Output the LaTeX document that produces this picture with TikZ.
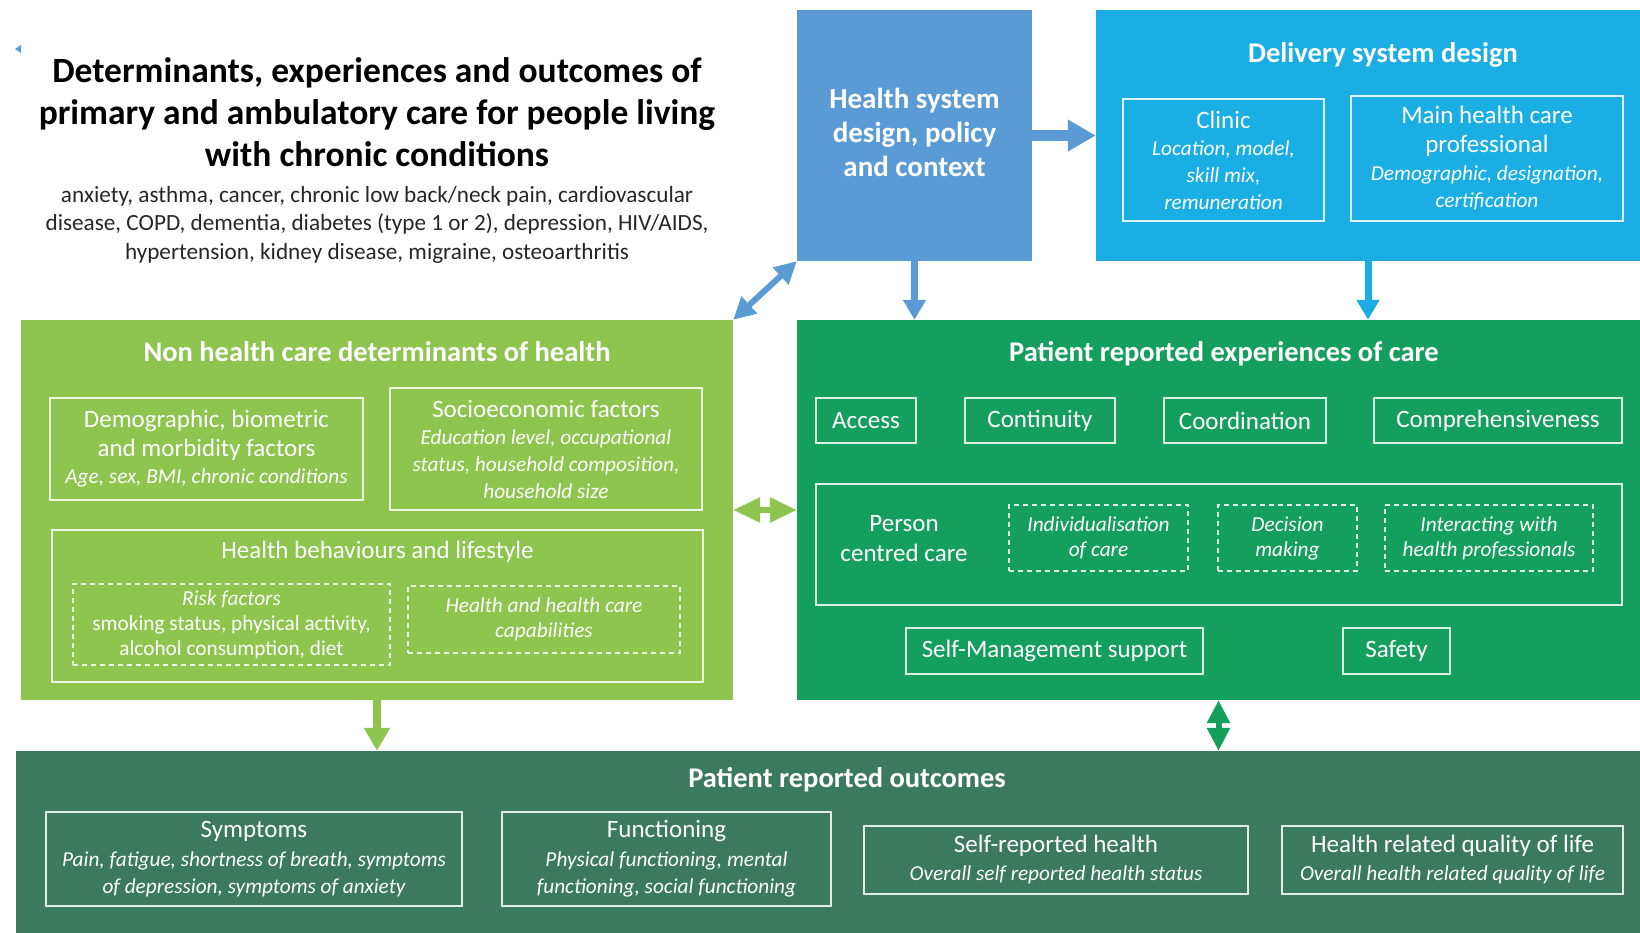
\documentclass[tikz,border=0pt]{standalone}
\usepackage{fontspec}
\setmainfont{Carlito}
\usepackage{tikz}
\usetikzlibrary{arrows.meta}

\definecolor{hsblue}{HTML}{5B9BD5}
\definecolor{dsblue}{HTML}{1BAEE4}
\definecolor{nhgreen}{HTML}{8DC54F}
\definecolor{exgreen}{HTML}{159F5C}
\definecolor{ocgreen}{HTML}{3B7A5E}

\newcommand\detail[1]{{\itshape\fontsize{21.3}{26}\selectfont #1}}

\tikzset{
  panel/.style={rectangle, inner sep=0pt, text=white},
  head/.style={text=white, font=\bfseries\fontsize{28.5}{34}\selectfont},
  item/.style={rectangle, draw=white, draw opacity=0.85, line width=2pt, text=white,
    align=center, inner sep=0pt, font=\fontsize{25}{27}\selectfont},
  dashbox/.style={item, dash pattern=on 5pt off 4pt, font=\itshape\fontsize{21.3}{25}\selectfont},
  arr/.style={line width=7pt, -{Triangle[width=22pt,length=20pt]}},
  darr/.style={line width=6pt, {Triangle[width=22pt,length=22pt]}-{Triangle[width=22pt,length=22pt]}}
}

\begin{document}
\begin{tikzpicture}[x=1pt, y=-1pt]
        \useasboundingbox (0,0) rectangle (1640,933);

        % title and conditions
        \fill[hsblue] (15,49) -- (21,45) -- (21,53) -- cycle;
        \node[font=\bfseries\fontsize{35.5}{42}\selectfont, align=center] (title) at (377,112)
            {Determinants, experiences and outcomes of\\primary and ambulatory care for people living\\with chronic conditions};
        \node[font=\fontsize{23.2}{28.5}\selectfont, align=center, text=black!85] (conds) at (377,224.5)
            {anxiety, asthma, cancer, chronic low back/neck pain, cardiovascular\\disease, COPD, dementia, diabetes (type 1 or 2), depression, HIV/AIDS,\\hypertension, kidney disease, migraine, osteoarthritis};

        % Health system design
        \node[panel, fill=hsblue, minimum width=235, minimum height=251] (hs) at (914.5,135.5) {};
        \node[text=white, align=center, font=\bfseries\fontsize{29}{34}\selectfont] (hstext) at (914.5,132)
            {Health system\\design, policy\\and context};

        % Delivery system design
        \node[panel, fill=dsblue, minimum width=544, minimum height=251] (ds) at (1368,135.5) {};
        \node[head] (dstitle) at (1383,55) {Delivery system design};
        \node[item, minimum width=201, minimum height=122] (clinic) at (1223.5,160)
            {Clinic\\\detail{Location, model,}\\\detail{skill mix,}\\\detail{remuneration}};
        \node[item, minimum width=272, minimum height=125] (mhcp) at (1487,158.5)
            {Main health care\\[2pt]professional\\[1pt]\detail{Demographic, designation,}\\\detail{certification}};

        % Non health care determinants
        \node[panel, fill=nhgreen, minimum width=712, minimum height=380] (nh) at (377,510) {};
        \node[head] (nhtitle) at (377,352) {Non health care determinants of health};
        \node[item, minimum width=313, minimum height=102] (demo) at (206.5,449)
            {Demographic, biometric\\[2pt]and morbidity factors\\\detail{Age, sex, BMI, chronic conditions}};
        \node[item, minimum width=312, minimum height=122] (socio) at (546,449)
            {Socioeconomic factors\\\detail{Education level, occupational}\\\detail{status, household composition,}\\\detail{household size}};
        \node[item, minimum width=651, minimum height=152] (behav) at (377.5,606) {};
        \node[text=white, font=\fontsize{25}{27}\selectfont] (behavtitle) at (377.5,552) {Health behaviours and lifestyle};
        \node[dashbox, minimum width=317, minimum height=81] (risk) at (231.5,624.5)
            {Risk factors\\\upshape smoking status, physical activity,\\\upshape alcohol consumption, diet};
        \node[dashbox, minimum width=272, minimum height=67] (capab) at (544,619.5)
            {Health and health care\\capabilities};

        % Patient reported experiences of care
        \node[panel, fill=exgreen, minimum width=843, minimum height=380] (ex) at (1218.5,510) {};
        \node[head] (extitle) at (1224,354) {Patient reported experiences of care};
        \node[item, minimum width=100, minimum height=45] (access) at (866,420.5) {Access};
        \node[item, minimum width=150, minimum height=45] (contin) at (1040,420.5) {Continuity};
        \node[item, minimum width=162, minimum height=45] (coord) at (1245,420.5) {Coordination};
        \node[item, minimum width=248, minimum height=45] (compr) at (1498,420.5) {Comprehensiveness};
        \node[item, minimum width=806, minimum height=121] (pcc) at (1219,544.5) {};
        \node[text=white, align=center, font=\fontsize{25}{30}\selectfont] (pcctitle) at (904,539) {Person\\centred care};
        \node[dashbox, minimum width=179, minimum height=66] (indiv) at (1098.5,538) {Individualisation\\of care};
        \node[dashbox, minimum width=139, minimum height=66] (decis) at (1287.5,538) {Decision\\making};
        \node[dashbox, minimum width=208, minimum height=66] (inter) at (1489,538) {Interacting with\\health professionals};
        \node[item, minimum width=297, minimum height=46] (selfm) at (1054.5,651) {Self-Management support};
        \node[item, minimum width=107, minimum height=46] (safety) at (1396.5,651) {Safety};

        % Patient reported outcomes
        \node[panel, fill=ocgreen, minimum width=1624, minimum height=182] (oc) at (828,842) {};
        \node[head] (octitle) at (847,780) {Patient reported outcomes};
        \node[item, minimum width=416, minimum height=94] (sympt) at (254,859)
            {Symptoms\\[2pt]\detail{Pain, fatigue, shortness of breath, symptoms}\\\detail{of depression, symptoms of anxiety}};
        \node[item, minimum width=329, minimum height=94] (funct) at (666.5,859)
            {Functioning\\[2pt]\detail{Physical functioning, mental}\\\detail{functioning, social functioning}};
        \node[item, minimum width=384, minimum height=68] (srh) at (1056,860)
            {Self-reported health\\[1pt]\detail{Overall self reported health status}};
        \node[item, minimum width=341, minimum height=68] (hrqol) at (1452.5,860)
            {Health related quality of life\\[1pt]\detail{Overall health related quality of life}};

        % connectors
        \draw[arr, hsblue, line width=11pt, -{Triangle[width=30pt,length=28pt]}] (hs.east) -- (ds.west);
        \draw[arr, hsblue] (hs.south) -- (hs.south |- ex.north);
        \draw[arr, dsblue] (ds.south) -- (ds.south |- ex.north);
        \draw[darr, hsblue] (hs.south west) -- (nh.north east);
        \draw[darr, nhgreen, {Triangle[width=24pt,length=27pt]}-{Triangle[width=24pt,length=27pt]}] (nh.east) -- (ex.west);
        \draw[arr, nhgreen, line width=8pt, -{Triangle[width=25pt,length=23pt]}] (nh.south) -- (nh.south |- oc.north);
        \draw[darr, exgreen, {Triangle[width=22pt,length=23pt]}-{Triangle[width=22pt,length=23pt]}] (ex.south) -- (ex.south |- oc.north);
\end{tikzpicture}
\end{document}
